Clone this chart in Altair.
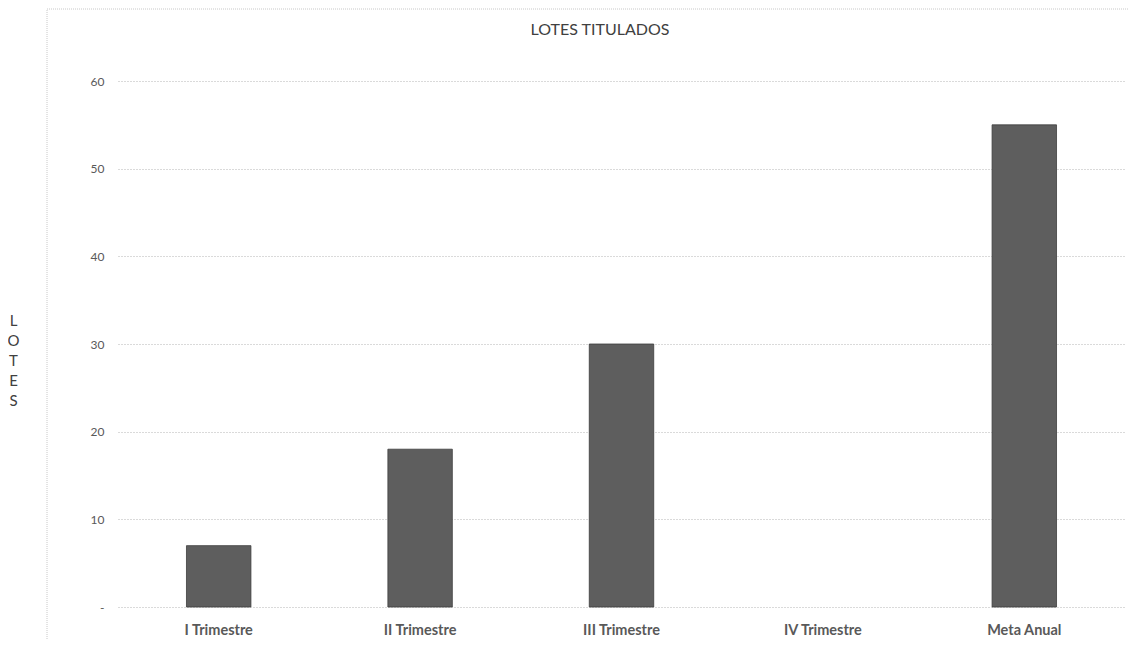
import altair as alt
import pandas as pd

categories = ["I Trimestre", "II Trimestre", "III Trimestre", "IV Trimestre", "Meta Anual"]
lotes = [7, 18, 30, 0, 55]
y_ticks = [0, 10, 20, 30, 40, 50, 60]

df = pd.DataFrame({"periodo": categories, "lotes": lotes})

FONT = "Lato"
GREY = "#595959"

border = alt.Chart(pd.DataFrame({"k": [0]})).mark_rect(
    fill=None, stroke="#c8c8c8", strokeWidth=1, strokeDash=[1, 1]
).encode(
    x=alt.value(-71), x2=alt.value(1040),
    y=alt.value(-72), y2=alt.value(640),
)

title_txt = alt.Chart(pd.DataFrame({"t": ["LOTES TITULADOS"]})).mark_text(
    font=FONT, fontSize=16, color="#404040", align="center", baseline="middle"
).encode(x=alt.value(482), y=alt.value(-51), text="t:N")

bars = alt.Chart(df).mark_bar(
    color="#5e5e5e", stroke="#3c3c3c", strokeWidth=0.8
).encode(
    x=alt.X("periodo:N", sort=categories,
            scale=alt.Scale(paddingInner=0.68, paddingOuter=0.34),
            axis=alt.Axis(title=None, labelAngle=0, labelFont=FONT, labelFontSize=14.5,
                          labelFontWeight="bold", labelColor=GREY, labelPadding=16,
                          ticks=False, domain=False, grid=False)),
    y=alt.Y("lotes:Q", scale=alt.Scale(domain=[0, 60], nice=False),
            axis=alt.Axis(values=y_ticks, title=["L", "O", "T", "E", "S"], titleAngle=0,
                          titleFont=FONT, titleFontSize=15, titleFontWeight="normal",
                          titleColor="#404040", titleLineHeight=20, titleAlign="center",
                          titleBaseline="top", titleX=-105, titleY=232,
                          labelExpr="datum.value == 0 ? '-' : datum.label",
                          labelFont=FONT, labelFontSize=12, labelColor=GREY,
                          labelPadding=14, ticks=False, domain=False,
                          grid=True, gridColor="#b5b5b5", gridDash=[1, 2], gridWidth=1)),
    strokeOpacity=alt.condition("datum.lotes > 0", alt.value(1), alt.value(0)),
)

chart = alt.layer(border, title_txt, bars).properties(
    width=1007, height=526,
    background="white",
    autosize=alt.AutoSizeParams(type="none"),
    padding={"left": 110, "top": 73, "right": 4, "bottom": 32},
).configure_view(stroke=None)

chart.save("out.html", embed_options={"renderer": "svg", "actions": False})
